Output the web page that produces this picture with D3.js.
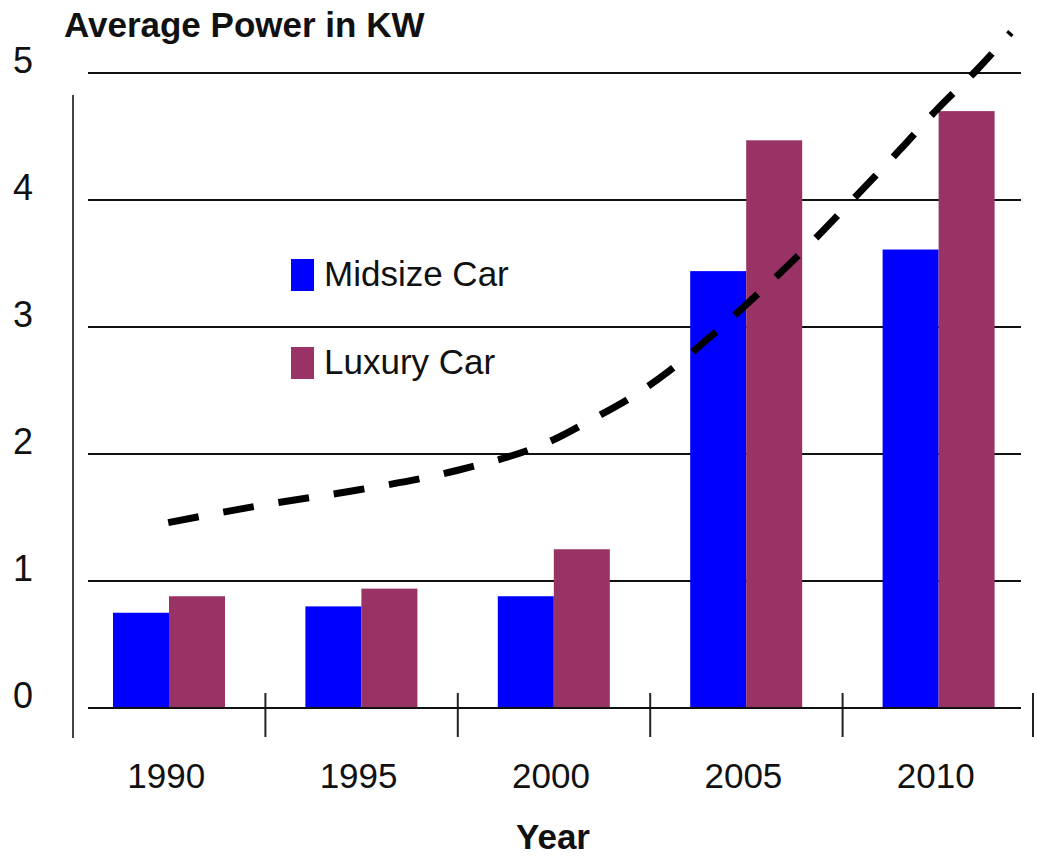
<!DOCTYPE html>
<html>
<head>
<meta charset="utf-8">
<script src="https://cdn.jsdelivr.net/npm/d3@7"></script>
<style>
body { margin: 0; background: #fff; }
svg text { font-family: "Liberation Sans", Arial, sans-serif; fill: #111; }
</style>
</head>
<body>
<div id="chart"></div>
<script>
var years = ['1990', '1995', '2000', '2005', '2010'];
var seriesNames = ['Midsize Car', 'Luxury Car'];
var seriesColors = ['#0000ff', '#993366'];
var midsize = [0.75, 0.80, 0.88, 3.44, 3.61];
var luxury = [0.88, 0.94, 1.25, 4.47, 4.70];
var yTicks = [0, 1, 2, 3, 4, 5];
// dashed trend line (year, kW)
var trendYears = [1990, 1992.5, 1995, 1997.5, 2000, 2001, 2002, 2003, 2004, 2005, 2006.5, 2008, 2009, 2010, 2011, 2011.9];
var trendValues = [1.46, 1.60, 1.72, 1.87, 2.11, 2.27, 2.44, 2.65, 2.90, 3.17, 3.60, 4.07, 4.39, 4.72, 5.02, 5.32];

var width = 1037, height = 858;
var svg = d3.select('#chart').append('svg')
    .attr('width', width)
    .attr('height', height);

var x = d3.scaleBand().domain(years).range([73, 1035]).padding(0);
var xs = d3.scaleBand().domain(seriesNames).range([40, 152]).padding(0);
var y = d3.scaleLinear().domain([0, 5]).range([708, 73]);
var xYear = d3.scaleLinear().domain([1990, 2010])
    .range([x('1990') + x.bandwidth() / 2 - 1, x('2010') + x.bandwidth() / 2 - 1]);

// title
svg.append('text')
    .attr('x', 64)
    .attr('y', 37)
    .style('font-size', '35px')
    .style('font-weight', 'bold')
    .text('Average Power in KW');

// gridlines (0 is the baseline)
svg.append('g').selectAll('line')
    .data(yTicks)
    .enter().append('line')
    .attr('x1', 88)
    .attr('x2', 1021)
    .attr('y1', function(d) { return y(d); })
    .attr('y2', function(d) { return y(d); })
    .attr('stroke', '#111')
    .attr('stroke-width', 2);

// y labels
svg.append('g').selectAll('text')
    .data(yTicks)
    .enter().append('text')
    .attr('x', 23)
    .attr('y', function(d) { return y(d); })
    .attr('text-anchor', 'middle')
    .style('font-size', '36px')
    .text(function(d) { return d; });

// left axis line
svg.append('line')
    .attr('x1', x('1990')).attr('x2', x('1990'))
    .attr('y1', 95).attr('y2', 738)
    .attr('stroke', '#444')
    .attr('stroke-width', 2);

// category ticks
svg.append('g').selectAll('line')
    .data(years.slice(1).concat(['end']))
    .enter().append('line')
    .attr('x1', function(d) { return d == 'end' ? x.range()[1] - 2 : x(d); })
    .attr('x2', function(d) { return d == 'end' ? x.range()[1] - 2 : x(d); })
    .attr('y1', 693)
    .attr('y2', 737)
    .attr('stroke', '#222')
    .attr('stroke-width', 2);

// bars
var seriesData = [midsize, luxury];
var groups = svg.append('g').selectAll('g')
    .data(years)
    .enter().append('g')
    .attr('transform', function(d) { return 'translate(' + x(d) + ',0)'; });

groups.selectAll('rect')
    .data(function(d, i) {
        return seriesNames.map(function(s, j) { return {name: s, value: seriesData[j][i], color: seriesColors[j]}; });
    })
    .enter().append('rect')
    .attr('x', function(d) { return xs(d.name); })
    .attr('y', function(d) { return y(d.value); })
    .attr('width', xs.bandwidth())
    .attr('height', function(d) { return y(0) - y(d.value); })
    .attr('fill', function(d) { return d.color; });

// redraw baseline over bars
svg.append('line')
    .attr('x1', 88).attr('x2', 1021)
    .attr('y1', y(0)).attr('y2', y(0))
    .attr('stroke', '#111')
    .attr('stroke-width', 2);

// x labels
svg.append('g').selectAll('text')
    .data(years)
    .enter().append('text')
    .attr('x', function(d) { return x(d) + x.bandwidth() / 2 - 3; })
    .attr('y', 788)
    .attr('text-anchor', 'middle')
    .style('font-size', '35px')
    .text(function(d) { return d; });

svg.append('text')
    .attr('x', 553)
    .attr('y', 849)
    .attr('text-anchor', 'middle')
    .style('font-size', '35px')
    .style('font-weight', 'bold')
    .text('Year');

// trend line
var trend = trendYears.map(function(t, i) { return [t, trendValues[i]]; });
var line = d3.line()
    .x(function(d) { return xYear(d[0]); })
    .y(function(d) { return y(d[1]); })
    .curve(d3.curveMonotoneX);

svg.append('path')
    .datum(trend)
    .attr('d', line)
    .attr('fill', 'none')
    .attr('stroke', '#000')
    .attr('stroke-width', 7)
    .attr('stroke-dasharray', '31,25');

// legend
var legend = svg.append('g').selectAll('g')
    .data(seriesNames)
    .enter().append('g')
    .attr('transform', function(d, i) { return 'translate(291,' + (259 + i * 88) + ')'; });

legend.append('rect')
    .attr('width', 23)
    .attr('height', 32)
    .attr('fill', function(d, i) { return seriesColors[i]; });

legend.append('text')
    .attr('x', 33)
    .attr('y', 27)
    .style('font-size', '35px')
    .text(function(d) { return d; });
</script>
</body>
</html>
